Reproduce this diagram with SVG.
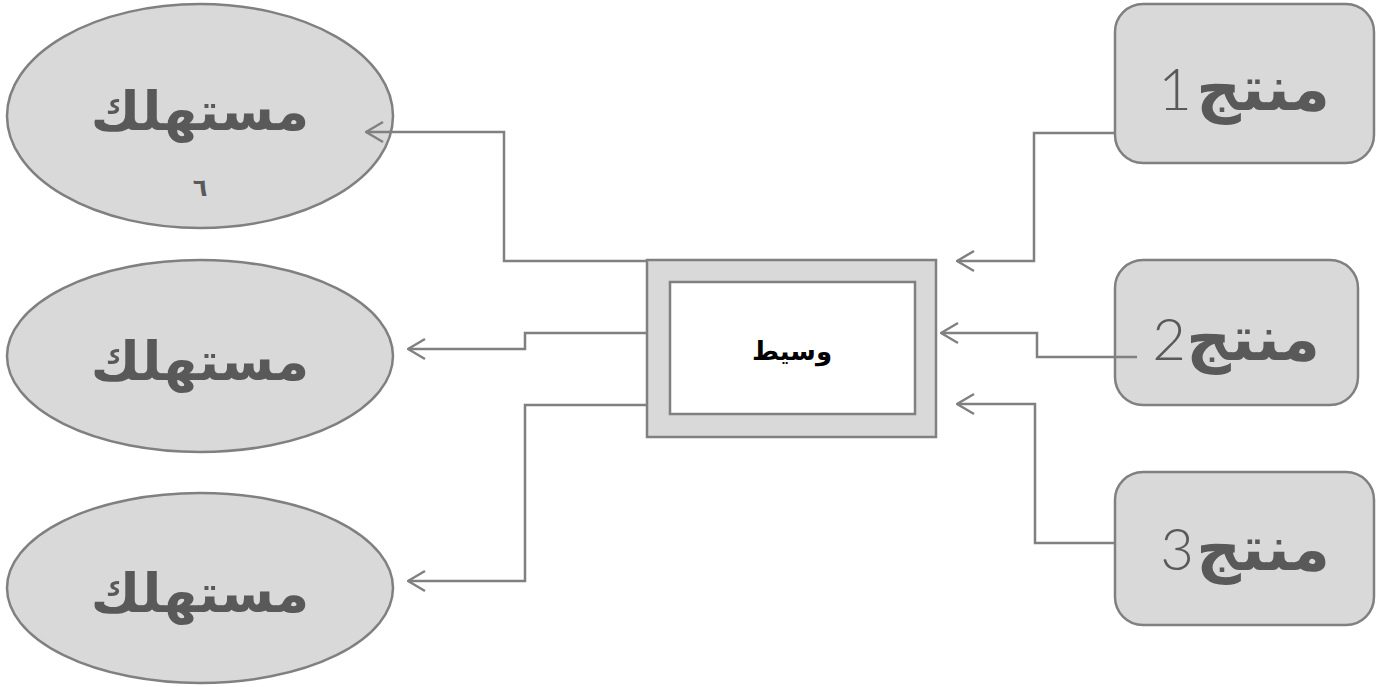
<svg xmlns="http://www.w3.org/2000/svg" width="1381" height="687" viewBox="0 0 1381 687">
<defs>
<marker id="arr" viewBox="0 0 20 24" refX="19" refY="12" markerWidth="20" markerHeight="24" markerUnits="userSpaceOnUse" orient="auto">
<path d="M2,2 L19,12 L2,22" fill="none" stroke="#808080" stroke-width="2.5"/>
</marker>
<style>
.shape{fill:#d9d9d9;stroke:#808080;stroke-width:2.5}
.inner{fill:#ffffff;stroke:#808080;stroke-width:2.5}
.ar{font-family:"DejaVu Sans","Noto Sans",sans-serif;font-weight:bold;fill:#595959}
.dig{font-family:Lato,"DejaVu Sans",sans-serif;font-weight:300;fill:#595959;font-size:58px;text-anchor:end}
.conn{fill:none;stroke:#808080;stroke-width:2.5}
</style>
</defs>
<rect width="1381" height="687" fill="#ffffff"/>
<g id="consumer1">
<ellipse class="shape" cx="200" cy="116" rx="193" ry="112"/>
<text class="ar" x="200" y="130" font-size="54" text-anchor="middle">مستهلك</text>
<text class="ar" x="200" y="196" font-size="24" text-anchor="middle">٦</text>
</g>
<g id="consumer2">
<ellipse class="shape" cx="200" cy="356" rx="193" ry="96"/>
<text class="ar" x="200" y="380" font-size="54" text-anchor="middle">مستهلك</text>
</g>
<g id="consumer3">
<ellipse class="shape" cx="200" cy="588" rx="193" ry="95"/>
<text class="ar" x="200" y="612" font-size="54" text-anchor="middle">مستهلك</text>
</g>
<g id="intermediary">
<rect class="shape" x="647" y="260" width="289" height="177"/>
<rect class="inner" x="670" y="282" width="245" height="132"/>
<text x="792" y="360" font-family="DejaVu Sans,sans-serif" font-weight="bold" font-size="26" fill="#000000" text-anchor="middle">وسيط</text>
</g>
<g id="producer1">
<rect class="shape" x="1115" y="4" width="259" height="159" rx="28"/>
<text class="ar" x="1330" y="110" font-size="62" text-anchor="end">منتج</text>
<text class="dig" x="1192" y="110">1</text>
</g>
<g id="producer2">
<rect class="shape" x="1115" y="260" width="243" height="145" rx="28"/>
<text class="ar" x="1320" y="360" font-size="62" text-anchor="end">منتج</text>
<text class="dig" x="1186" y="360">2</text>
</g>
<g id="producer3">
<rect class="shape" x="1115" y="472" width="259" height="153" rx="28"/>
<text class="ar" x="1330" y="570" font-size="62" text-anchor="end">منتج</text>
<text class="dig" x="1194" y="570">3</text>
</g>
<g id="connectors">
<polyline class="conn" points="647,261 504,261 504,132 366,132" marker-end="url(#arr)"/>
<polyline class="conn" points="647,333 525,333 525,349 408,349" marker-end="url(#arr)"/>
<polyline class="conn" points="647,405 525,405 525,581 408,581" marker-end="url(#arr)"/>
<polyline class="conn" points="1115,133 1034,133 1034,261 957,261" marker-end="url(#arr)"/>
<polyline class="conn" points="1137,357 1037,357 1037,333 941,333" marker-end="url(#arr)"/>
<polyline class="conn" points="1115,543 1035,543 1035,404 957,404" marker-end="url(#arr)"/>
</g>
</svg>
